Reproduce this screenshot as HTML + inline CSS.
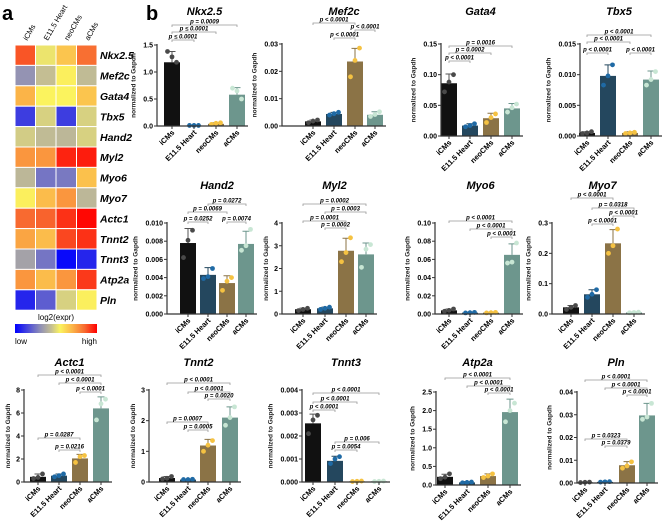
<!DOCTYPE html>
<html><head><meta charset="utf-8"><style>
html,body{margin:0;padding:0;background:#fff;}
svg{display:block;font-family:"Liberation Sans",sans-serif;}
</style></head><body>
<svg id="fig" width="667" height="522" viewBox="0 0 667 522"></svg>
<script>
const cats=['iCMs','E11.5 Heart','neoCMs','aCMs'];
const genes=['Nkx2.5','Mef2c','Gata4','Tbx5','Hand2','Myl2','Myo6','Myo7','Actc1','Tnnt2','Tnnt3','Atp2a','Pln'];
const heatVals=[
[0.88,0.52,0.66,0.84],[0.32,0.44,0.56,0.43],[0.70,0.55,0.55,0.66],[0.13,0.48,0.13,0.48],
[0.47,0.43,0.42,0.48],[0.76,0.76,0.95,0.96],[0.42,0.25,0.26,0.67],[0.56,0.68,0.76,0.42],
[0.85,0.86,0.93,0.99],[0.73,0.68,0.90,0.93],[0.36,0.25,0.02,0.08],[0.76,0.68,0.76,0.92],[0.08,0.20,0.48,0.56]];

const nkxMean=[1.18,0.01,0.04,0.58], nkxSD=[0.2,0.005,0.02,0.13], nkxPts=[[1.38,1.28,1.18],[0.01,0.01,0.01],[0.03,0.05,0.06],[0.70,0.65,0.50]], nkxTicks=[0,0.5,1.0,1.5], nkxTickLabels=['0.0','0.5','1.0','1.5'];
const nkxP=[[0,1,'p ≤ 0.0001'],[0,2,'p ≤ 0.0001'],[0,3,'p = 0.0009']];
const mefMean=[0.0017,0.0044,0.0236,0.0041], mefSD=[0.0005,0.0006,0.0048,0.0011], mefPts=[[0.0012,0.0018,0.0022],[0.004,0.0045,0.005],[0.018,0.024,0.0285],[0.0035,0.0042,0.0052]], mefTicks=[0,0.01,0.02,0.03], mefTickLabels=['0.00','0.01','0.02','0.03'];
const mefP=[[1,2,'p < 0.0001'],[2,3,'p < 0.0001'],[0,2,'p < 0.0001']];
const gataMean=[0.086,0.017,0.029,0.045], gataSD=[0.015,0.003,0.008,0.008], gataPts=[[0.072,0.088,0.1],[0.015,0.017,0.02],[0.022,0.03,0.036],[0.039,0.046,0.052]], gataTicks=[0,0.05,0.1,0.15], gataTickLabels=['0.00','0.05','0.10','0.15'];
const gataP=[[0,1,'p < 0.0001'],[0,2,'p = 0.0002'],[0,3,'p = 0.0016']];
const tbxMean=[0.0005,0.0098,0.0005,0.0092], tbxSD=[0.0002,0.0018,0.0002,0.0014], tbxPts=[[0.0004,0.0005,0.0007],[0.0083,0.0098,0.0116],[0.0004,0.0005,0.0006],[0.0083,0.0092,0.0105]], tbxTicks=[0,0.005,0.01,0.015], tbxTickLabels=['0.000','0.005','0.010','0.015'];
const tbxP=[[0,1,'p < 0.0001'],[2,3,'p < 0.0001'],[0,2,'p < 0.0001'],[0,3,'p < 0.0001']];
const handMean=[0.0078,0.0043,0.0034,0.0077], handSD=[0.0016,0.0008,0.0008,0.0014], handPts=[[0.0062,0.0081,0.0092],[0.0039,0.0041,0.005],[0.0026,0.0036,0.004],[0.007,0.0075,0.0093]], handTicks=[0,0.002,0.004,0.006,0.008,0.01], handTickLabels=['0.000','0.002','0.004','0.006','0.008','0.010'];
const handP=[[0,1,'p = 0.0252'],[2,3,'p = 0.0074'],[0,2,'p = 0.0069'],[1,3,'p = 0.0272']];
const mylMean=[0.21,0.25,2.78,2.62], mylSD=[0.05,0.05,0.55,0.5], mylPts=[[0.15,0.2,0.25],[0.2,0.25,0.3],[2.3,2.7,3.35],[2.05,2.85,3.05]], mylTicks=[0,1,2,3,4], mylTickLabels=['0','1','2','3','4'];
const mylP=[[1,2,'p = 0.0002'],[0,2,'p = 0.0001'],[1,3,'p = 0.0003'],[0,3,'p = 0.0002']];
const myo6Mean=[0.004,0.0015,0.0015,0.065], myo6SD=[0.0015,0.0005,0.0005,0.012], myo6Pts=[[0.003,0.004,0.0055],[0.0012,0.0015,0.0018],[0.0012,0.0015,0.0018],[0.056,0.057,0.078]], myo6Ticks=[0,0.02,0.04,0.06,0.08,0.1], myo6TickLabels=['0.00','0.02','0.04','0.06','0.08','0.10'];
const myo6P=[[2,3,'p < 0.0001'],[1,3,'p < 0.0001'],[0,3,'p < 0.0001']];
const myo7Mean=[0.022,0.065,0.233,0.005], myo7SD=[0.006,0.015,0.045,0.001], myo7Pts=[[0.015,0.022,0.028],[0.055,0.065,0.08],[0.2,0.225,0.28],[0.004,0.005,0.006]], myo7Ticks=[0,0.1,0.2,0.3], myo7TickLabels=['0.0','0.1','0.2','0.3'];
const myo7P=[[1,2,'p < 0.0001'],[2,3,'p < 0.0001'],[1,3,'p = 0.0318'],[0,2,'p < 0.0001']];
const actMean=[0.45,0.55,2.05,6.4], actSD=[0.25,0.15,0.35,1.0], actPts=[[0.3,0.4,0.7],[0.45,0.55,0.7],[1.7,2.2,2.3],[5.4,6.8,7.2]], actTicks=[0,2,4,6,8], actTickLabels=['0','2','4','6','8'];
const actP=[[1,2,'p = 0.0216'],[0,2,'p = 0.0287'],[2,3,'p < 0.0001'],[1,3,'p < 0.0001'],[0,3,'p < 0.0001']];
const tnt2Mean=[0.13,0.08,1.19,2.1], tnt2SD=[0.05,0.01,0.2,0.35], tnt2Pts=[[0.1,0.12,0.18],[0.08,0.08,0.09],[1.0,1.2,1.35],[1.85,2.1,2.45]], tnt2Ticks=[0,1,2,3], tnt2TickLabels=['0','1','2','3'];
const tnt2P=[[1,2,'p = 0.0005'],[0,2,'p = 0.0007'],[2,3,'p = 0.0020'],[1,3,'p < 0.0001'],[0,3,'p < 0.0001']];
const tnt3Mean=[0.00255,0.00092,0.00003,0.00003], tnt3SD=[0.0004,0.0002,0.00001,0.00001], tnt3Pts=[[0.0021,0.0027,0.0029],[0.0008,0.001,0.0011],[0.00002,0.00003,0.00004],[0.00002,0.00003,0.00004]], tnt3Ticks=[0,0.001,0.002,0.003,0.004], tnt3TickLabels=['0.000','0.001','0.002','0.003','0.004'];
const tnt3P=[[1,2,'p = 0.0054'],[1,3,'p = 0.006'],[0,1,'p < 0.0001'],[0,2,'p < 0.0001'],[0,3,'p < 0.0001']];
const atpMean=[0.22,0.07,0.24,1.96], atpSD=[0.07,0.02,0.06,0.35], atpPts=[[0.17,0.21,0.3],[0.06,0.07,0.08],[0.2,0.24,0.3],[1.7,2.0,2.2]], atpTicks=[0,0.5,1,1.5,2,2.5], atpTickLabels=['0.0','0.5','1.0','1.5','2.0','2.5'];
const atpP=[[2,3,'p < 0.0001'],[1,3,'p < 0.0001'],[0,3,'p < 0.0001']];
const plnMean=[0.0003,0.0005,0.0078,0.0297], plnSD=[0.0001,0.0001,0.0016,0.0053], plnPts=[[0.0002,0.0003,0.0004],[0.0004,0.0005,0.0006],[0.0065,0.0075,0.0093],[0.028,0.029,0.035]], plnTicks=[0,0.01,0.02,0.03,0.04], plnTickLabels=['0.00','0.01','0.02','0.03','0.04'];
const plnP=[[1,2,'p = 0.0379'],[0,2,'p = 0.0323'],[2,3,'p < 0.0001'],[1,3,'p < 0.0001'],[0,3,'p < 0.0001']];

const barFill=['#111111','#24475e','#8b7346','#6d968d'];
const dotFill=['#4a4a4a','#1f6aa5','#f5c242','#c8e6d4'];

const panels=[
{id:'nkx2-5',t:'Nkx2.5',m:nkxMean,sd:nkxSD,p:nkxPts,tk:nkxTicks,tl:nkxTickLabels,pv:nkxP,ax:157,bx:[172,194,216,237],yT:45,yB:126,ty:15,by:[40,32,25]},
{id:'mef2c',t:'Mef2c',m:mefMean,sd:mefSD,p:mefPts,tk:mefTicks,tl:mefTickLabels,pv:mefP,ax:282,bx:[313,334,355,375],yT:44,yB:126,ty:15,by:[38,30,23]},
{id:'gata4',t:'Gata4',m:gataMean,sd:gataSD,p:gataPts,tk:gataTicks,tl:gataTickLabels,pv:gataP,ax:441,bx:[449,470,491,512],yT:44,yB:136,ty:15,by:[61,53,46]},
{id:'tbx5',t:'Tbx5',m:tbxMean,sd:tbxSD,p:tbxPts,tk:tbxTicks,tl:tbxTickLabels,pv:tbxP,ax:580,bx:[587,608,630,651],yT:44,yB:136,ty:15,by:[53,53,42,35]},
{id:'hand2',t:'Hand2',m:handMean,sd:handSD,p:handPts,tk:handTicks,tl:handTickLabels,pv:handP,ax:167,bx:[188,208,227,246],yT:223,yB:314,ty:189,by:[222,222,212,204]},
{id:'myl2',t:'Myl2',m:mylMean,sd:mylSD,p:mylPts,tk:mylTicks,tl:mylTickLabels,pv:mylP,ax:282,bx:[303,325,346,366],yT:223,yB:314,ty:189,by:[228,221,212,204]},
{id:'myo6',t:'Myo6',m:myo6Mean,sd:myo6SD,p:myo6Pts,tk:myo6Ticks,tl:myo6TickLabels,pv:myo6P,ax:435,bx:[449,470,491,512],yT:223,yB:314,ty:189,by:[237,229,221]},
{id:'myo7',t:'Myo7',m:myo7Mean,sd:myo7SD,p:myo7Pts,tk:myo7Ticks,tl:myo7TickLabels,pv:myo7P,ax:552,bx:[571,592,613,634],yT:223,yB:314,ty:189,by:[224,216,208,198]},
{id:'actc1',t:'Actc1',m:actMean,sd:actSD,p:actPts,tk:actTicks,tl:actTickLabels,pv:actP,ax:24,bx:[38,59,80,101],yT:390,yB:482,ty:366,by:[450,438,392,383,375]},
{id:'tnnt2',t:'Tnnt2',m:tnt2Mean,sd:tnt2SD,p:tnt2Pts,tk:tnt2Ticks,tl:tnt2TickLabels,pv:tnt2P,ax:149,bx:[167,188,208,230],yT:390,yB:482,ty:366,by:[430,422,399,392,383]},
{id:'tnnt3',t:'Tnnt3',m:tnt3Mean,sd:tnt3SD,p:tnt3Pts,tk:tnt3Ticks,tl:tnt3TickLabels,pv:tnt3P,ax:302,bx:[313,335,357,379],yT:390,yB:482,ty:366,by:[450,442,410,402,393]},
{id:'atp2a',t:'Atp2a',m:atpMean,sd:atpSD,p:atpPts,tk:atpTicks,tl:atpTickLabels,pv:atpP,ax:436,bx:[445,467,488,510],yT:392,yB:485,ty:366,by:[393,386,378]},
{id:'pln',t:'Pln',m:plnMean,sd:plnSD,p:plnPts,tk:plnTicks,tl:plnTickLabels,pv:plnP,ax:577,bx:[585,605,627,647],yT:392,yB:483,ty:366,by:[446,439,395,388,380]}
];

const NS='http://www.w3.org/2000/svg';
const svg=document.getElementById('fig');
function mk(tag,attrs,parent,txt){const e=document.createElementNS(NS,tag);for(const k in attrs)e.setAttribute(k,attrs[k]);if(txt!==undefined)e.textContent=txt;(parent||svg).appendChild(e);return e;}

let la=mk('text',{x:2,y:20,'font-size':20,'font-weight':'bold'},svg,'a');


let lb=mk('text',{x:146,y:20,'font-size':20,'font-weight':'bold'},svg,'b');



const stops=[[0,[0,0,255]],[0.3,[140,140,184]],[0.45,[200,194,144]],[0.55,[251,243,94]],[0.7,[251,180,72]],[0.85,[248,106,48]],[1,[255,0,0]]];
function cmap(v){for(let i=1;i<stops.length;i++){if(v<=stops[i][0]){const a=stops[i-1],b=stops[i];const t=(v-a[0])/(b[0]-a[0]);const c=a[1].map((x,k)=>Math.round(x+(b[1][k]-x)*t));return `rgb(${c[0]},${c[1]},${c[2]})`;}}return 'rgb(255,0,0)';}
const hx0=15,hy0=45,cw=20.5,ch=20.4;
const hm=mk('g',{});


heatVals.forEach((row,r)=>{row.forEach((v,c)=>{
 const cell=mk('rect',{x:hx0+c*cw,y:hy0+r*ch,width:cw,height:ch,fill:cmap(v),stroke:'#fff','stroke-width':1},hm);
 
 
});
 const gl=mk('text',{x:hx0+4*cw+3,y:hy0+r*ch+ch/2+4,'font-size':10.5,'font-weight':'bold','font-style':'italic'},hm,genes[r]);
 
 
});
cats.forEach((c,i)=>{
 const x=hx0+i*cw+cw/2+2,y=hy0-4;
 const t=mk('text',{x:x,y:y,'font-size':7.5,transform:`rotate(-60 ${x} ${y})`},hm,c);
 
 
});
const defs=mk('defs',{});
const lg=mk('linearGradient',{id:'cbar',x1:0,x2:1,y1:0,y2:0},defs);
for(let i=0;i<=20;i++){mk('stop',{offset:i/20,'stop-color':cmap(i/20)},lg);}
const cb=mk('rect',{x:hx0,y:324,width:4*cw,height:9,fill:'url(#cbar)'});


let t1=mk('text',{x:hx0+2*cw,y:320,'font-size':8,'text-anchor':'middle'},svg,'log2(expr)');


let t2=mk('text',{x:hx0,y:344,'font-size':8},svg,'low');


let t3=mk('text',{x:hx0+4*cw,y:344,'font-size':8,'text-anchor':'end'},svg,'high');



panels.forEach(P=>{
 const g=mk('g',{});
 
 
 const max=P.tk[P.tk.length-1];
 const ys=v=>P.yB-(v/max)*(P.yB-P.yT);
 const cx=(P.bx[0]+P.bx[3])/2;
 const title=mk('text',{x:cx,y:P.ty,'font-size':11,'font-weight':'bold','font-style':'italic','text-anchor':'middle'},g,P.t);
 
 
 const maxLen=Math.max(...P.tl.map(s=>s.length));
 const ylx=P.ax-8-maxLen*3.9-2, yly=(P.yT+P.yB)/2;
 const yl=mk('text',{x:ylx,y:yly,'font-size':6.5,'font-weight':'bold','text-anchor':'middle',transform:`rotate(-90 ${ylx} ${yly})`,fill:'#222'},g,'normalized to Gapdh');
 
 
 P.m.forEach((v,i)=>{
  const x=P.bx[i], w=16, top=ys(v);
  const b=mk('rect',{x:x-w/2,y:top,width:w,height:Math.max(P.yB-top,0.6),fill:barFill[i]},g);
  
  
  const et=ys(v+P.sd[i]);
  const eb=mk('path',{d:`M${x},${top} V${et} M${x-3.5},${et} H${x+3.5}`,stroke:i===0?'#555':barFill[i],'stroke-width':1,fill:'none'},g);
  
  
  P.p[i].forEach((pv,k)=>{
   const d=mk('circle',{cx:x+(k-1)*4.5,cy:ys(pv),r:2.4,fill:dotFill[i]},g);
   
   
  });
 });
 const axl=mk('path',{d:`M${P.ax},${P.yT-1} V${P.yB} H${P.bx[3]+11}`,stroke:'#333','stroke-width':1.2,fill:'none'},g);
 
 
 P.tk.forEach((tv,i)=>{
  const y=ys(tv);
  mk('line',{x1:P.ax-3,x2:P.ax,y1:y,y2:y,stroke:'#333','stroke-width':1},g);
  const tl=mk('text',{x:P.ax-4,y:y+2.5,'font-size':7,'font-weight':'bold','text-anchor':'end'},g,P.tl[i]);
  
  
 });
 cats.forEach((c,i)=>{
  const x=P.bx[i]+3,y=P.yB+7;
  mk('line',{x1:P.bx[i],x2:P.bx[i],y1:P.yB,y2:P.yB+3,stroke:'#333','stroke-width':1},g);
  const xl=mk('text',{x:x,y:y,'font-size':7.5,'font-weight':'bold','text-anchor':'end',transform:`rotate(-45 ${x} ${y})`},g,c);
  
  
 });
 P.pv.forEach((br,k)=>{
  const x1=P.bx[br[0]],x2=P.bx[br[1]],y=P.by[k];
  const bl=mk('path',{d:`M${x1},${y+2} V${y} H${x2} V${y+2}`,stroke:'#999','stroke-width':0.8,fill:'none'},g);
  
  
  const bt=mk('text',{x:(x1+x2)/2,y:y-1.5,'font-size':6,'font-weight':'bold','font-style':'italic','text-anchor':'middle'},g,br[2]);
  
  
 });
});
</script>
</body></html>
